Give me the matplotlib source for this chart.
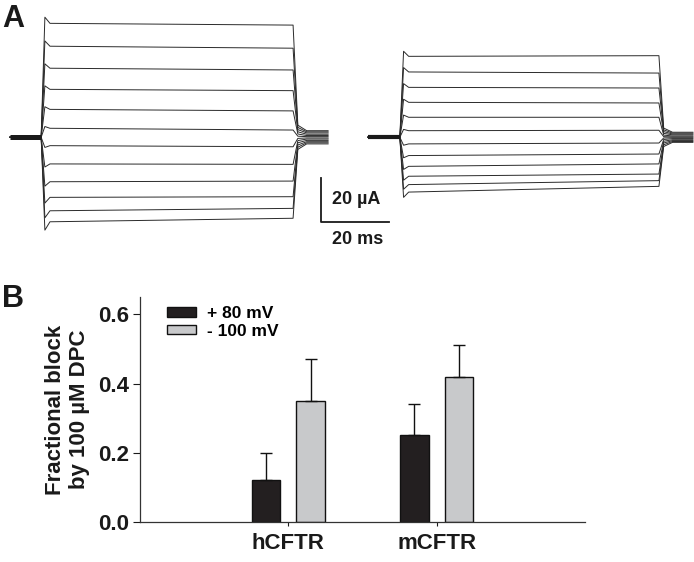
import numpy as np
import matplotlib
matplotlib.use("Agg")
import matplotlib.pyplot as plt

plt.rcParams['font.family'] = ['Liberation Sans', 'DejaVu Sans']
plt.rcParams['font.weight'] = 'bold'

# panel A: current traces (uA), 12 sweeps per oocyte
left_start = [51.8, 41.4, 31.4, 21.8, 12.7, 4.1, -3.8, -12.1, -20.2, -27.3, -33.4, -38.4]
left_end = [51.0, 40.5, 30.6, 21.2, 12.0, 3.3, -4.3, -12.3, -19.9, -27.0, -32.3, -36.8]
left_spike = [2.8, 2.4, 2.0, 1.6, 1.2, 0.8, -0.8, -1.4, -2.0, -2.6, -3.2, -3.8]
left_tail_peak = [5.5, 4.5, 3.5, 2.5, 1.5, 0.5, -0.5, -1.5, -2.5, -3.5, -4.5, -5.5]
left_tail_end = [3.0, 2.5, 2.0, 1.4, 0.8, 0.3, -0.3, -0.8, -1.4, -2.0, -2.5, -3.0]
left_times = [2.9, 12.1, 86.2, 96.5]      # start, step on, step off, stop (ms)

right_start = [36.8, 29.7, 22.7, 15.9, 9.1, 3.0, -3.0, -8.3, -13.2, -17.7, -21.5, -24.9]
right_end = [37.1, 29.2, 22.4, 15.6, 9.1, 3.2, -2.6, -7.6, -12.1, -16.7, -19.7, -22.3]
right_spike = [2.3, 2.0, 1.7, 1.4, 1.0, 0.6, -0.6, -1.0, -1.4, -1.8, -2.1, -2.4]
right_tail_peak = [4.2, 3.4, 2.6, 1.8, 1.0, 0.3, -0.3, -1.0, -1.8, -2.6, -3.4, -4.2]
right_tail_end = [2.3, 1.9, 1.5, 1.1, 0.6, 0.2, -0.2, -0.6, -1.1, -1.5, -1.9, -2.3]
right_times = [108.2, 117.6, 193.8, 203.8]

scale_uA = 20
scale_ms = 20

# panel B: fractional block
cats = ['hCFTR', 'mCFTR']
block_pos80 = [0.12, 0.25]
err_pos80 = [0.08, 0.09]
block_neg100 = [0.35, 0.42]
err_neg100 = [0.12, 0.09]

fig = plt.figure(figsize=(6.94, 5.62), dpi=100)

# ---- panel A ----
axA = fig.add_axes([0, 1 - 260 / 562, 1, 260 / 562])
axA.set_xlim(0, 694 / 3.4)
axA.set_ylim(-(260 - 137.3) / 2.2, 137.3 / 2.2)
axA.axis('off')


def draw_family(ax, times, start, end, spike, tpeak, tend, base_lw):
    t0, ton, toff, tstop = times
    for i in range(len(start)):
        t = [t0, ton, ton + 1.1, ton + 2.6, toff, toff + 1.4, toff + 4.0, tstop]
        y = [0, 0, start[i] + spike[i], start[i], end[i], tpeak[i], tend[i], tend[i]]
        ax.plot(t, y, color='#2a2a2a', lw=0.7)
    ax.plot([t0, ton], [0, 0], color='#1a1a1a', lw=base_lw, solid_capstyle='butt')


draw_family(axA, left_times, left_start, left_end, left_spike,
            left_tail_peak, left_tail_end, 3.6)
draw_family(axA, right_times, right_start, right_end, right_spike,
            right_tail_peak, right_tail_end, 3.0)

# scale bars
sx, sy = 94.4, -38.6
axA.plot([sx, sx, sx + scale_ms], [sy + scale_uA, sy, sy], color='#1a1a1a', lw=1.3)
axA.text(sx + 3.2, sy + scale_uA / 2 + 0.5, '%d µA' % scale_uA, fontsize=13,
         fontweight='bold', va='center', ha='left', color='#1a1a1a')
axA.text(sx + 3.2, sy - 8, '%d ms' % scale_ms, fontsize=13,
         fontweight='bold', va='center', ha='left', color='#1a1a1a')

fig.text(2 / 694, 1 - 19 / 562, 'A', fontsize=22, fontweight='bold',
         va='center', ha='left', color='#1a1a1a')
fig.text(2 / 694, 1 - 299 / 562, 'B', fontsize=22, fontweight='bold',
         va='center', ha='left', color='#1a1a1a')

# ---- panel B ----
axB = fig.add_axes([140 / 694, 40 / 562, 445 / 694, 225 / 562])
x = np.arange(1, len(cats) + 1)
w = 0.19
axB.bar(x - 0.15, block_pos80, w, color='#231f20', edgecolor='#111111', lw=1,
        yerr=[np.zeros(len(cats)), err_pos80], capsize=4,
        error_kw=dict(ecolor='#111111', elinewidth=1, capthick=1), label='+ 80 mV')
axB.bar(x + 0.15, block_neg100, w, color='#c8c9cb', edgecolor='#111111', lw=1,
        yerr=[np.zeros(len(cats)), err_neg100], capsize=4,
        error_kw=dict(ecolor='#111111', elinewidth=1, capthick=1), label='- 100 mV')

axB.set_xlim(0, 3)
axB.set_ylim(0, 0.65)
axB.set_yticks([0.0, 0.2, 0.4, 0.6])
axB.set_yticklabels(['0.0', '0.2', '0.4', '0.6'], fontsize=16, fontweight='bold')
axB.set_xticks(x)
axB.set_xticklabels(cats, fontsize=16, fontweight='bold')
axB.tick_params(axis='y', direction='out', length=5, width=0.8, pad=3, colors='#1a1a1a')
axB.tick_params(axis='x', direction='out', length=3, width=0.8, pad=5, colors='#1a1a1a')
for s in ['top', 'right']:
    axB.spines[s].set_visible(False)
for s in ['left', 'bottom']:
    axB.spines[s].set_linewidth(0.9)
    axB.spines[s].set_color('#333333')
axB.set_ylabel('Fractional block\nby 100 µM DPC', fontsize=16, fontweight='bold',
               labelpad=6, linespacing=1.15, color='#1a1a1a')

leg = axB.legend(loc='upper left', bbox_to_anchor=(0.045, 0.99), frameon=False,
                 fontsize=12.5, handlelength=1.7, handleheight=0.45, handletextpad=0.6,
                 labelspacing=0.15, borderaxespad=0)
for t in leg.get_texts():
    t.set_fontweight('bold')

fig.savefig('out.png', dpi=100)
